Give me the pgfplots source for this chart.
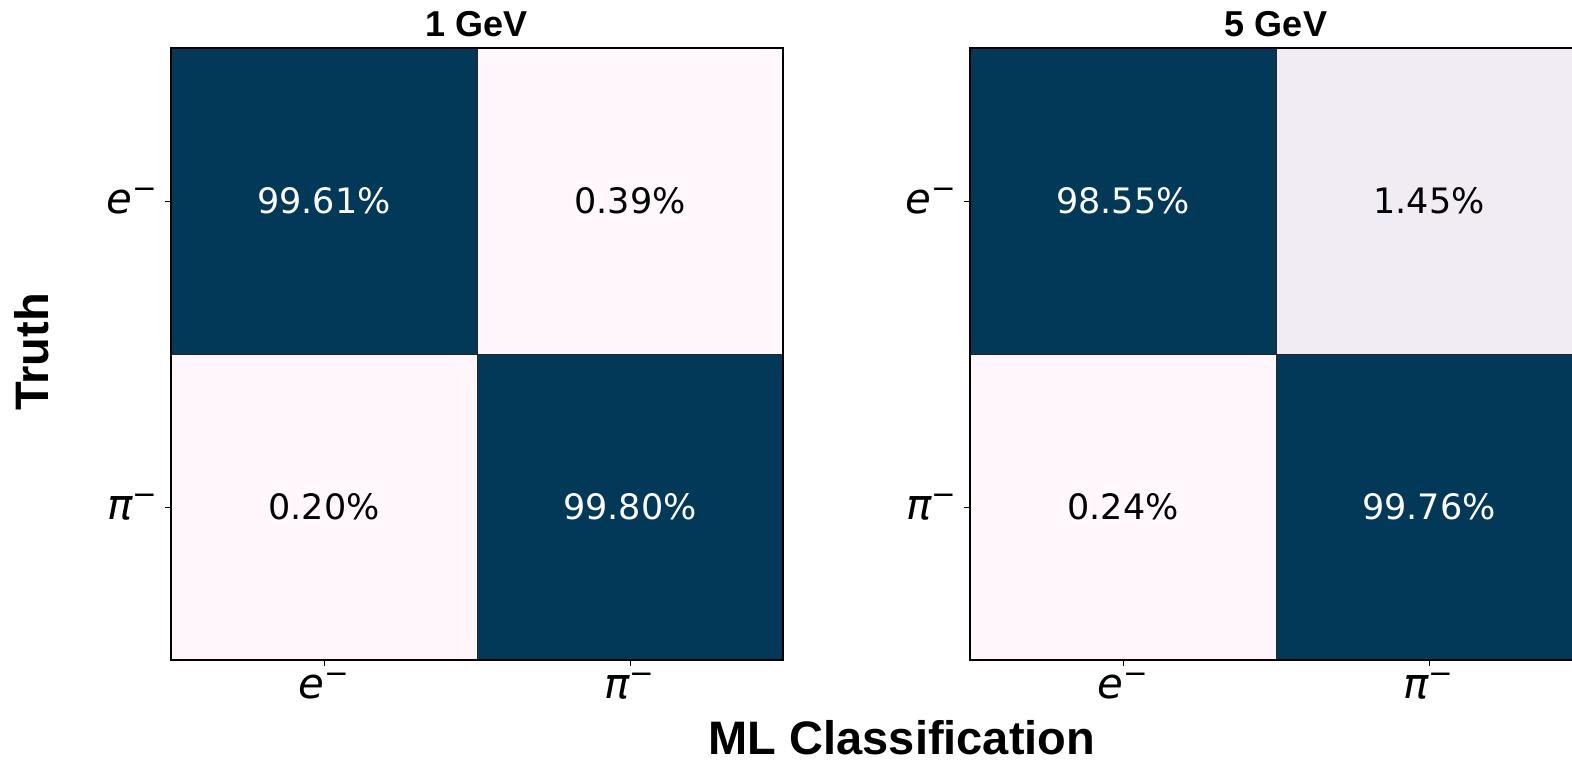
\documentclass[border=0pt]{standalone}
\usepackage{fontspec}
\setmainfont{DejaVu Sans}
\newfontfamily\arialfont{Liberation Sans}
\usepackage{pgfplots}
\usepackage{pgfplotstable}
\pgfplotsset{compat=1.18}

% cell corners: each cell is one rectangle patch, c = percentage
\pgfplotstableread{
x y c
-0.5 -0.5 99.61
0.5 -0.5 99.61
0.5 0.5 99.61
-0.5 0.5 99.61
0.5 -0.5 0.39
1.5 -0.5 0.39
1.5 0.5 0.39
0.5 0.5 0.39
-0.5 0.5 0.20
0.5 0.5 0.20
0.5 1.5 0.20
-0.5 1.5 0.20
0.5 0.5 99.80
1.5 0.5 99.80
1.5 1.5 99.80
0.5 1.5 99.80
}\cellsA
\pgfplotstableread{
x y c
-0.5 -0.5 98.55
0.5 -0.5 98.55
0.5 0.5 98.55
-0.5 0.5 98.55
0.5 -0.5 1.45
1.5 -0.5 1.45
1.5 0.5 1.45
0.5 0.5 1.45
-0.5 0.5 0.24
0.5 0.5 0.24
0.5 1.5 0.24
-0.5 1.5 0.24
0.5 0.5 99.76
1.5 0.5 99.76
1.5 1.5 99.76
0.5 1.5 99.76
}\cellsB
\pgfplotstableread{
x y lab
0 0 99.61
1 1 99.80
}\darkA
\pgfplotstableread{
x y lab
1 0 0.39
0 1 0.20
}\lightA
\pgfplotstableread{
x y lab
0 0 98.55
1 1 99.76
}\darkB
\pgfplotstableread{
x y lab
1 0 1.45
0 1 0.24
}\lightB

\pgfplotsset{
  cmstyle/.style={
    scale only axis, width=306pt, height=306pt,
    anchor=south west,
    xmin=-0.5, xmax=1.5, ymin=-0.5, ymax=1.5, y dir=reverse,
    enlargelimits=false, axis on top,
    xtick={0,1}, ytick={0,1},
    xticklabels={{\itshape e}\textsuperscript{−}, {\itshape π}\textsuperscript{−}},
    yticklabels={{\itshape e}\textsuperscript{−}, {\itshape π}\textsuperscript{−}},
    tick align=outside, xtick pos=bottom, ytick pos=left,
    major tick length=3pt,
    tick style={black, line width=0.5pt},
    axis line style={black, line width=0.6pt},
    ticklabel style={font=\fontsize{21}{25}\selectfont},
    colormap={pubu}{rgb255(0pt)=(255,247,251); rgb255(0.5pt)=(255,247,251); rgb255(1.45pt)=(241,235,244); rgb255(98pt)=(2,56,88); rgb255(100pt)=(2,56,88)},
    point meta min=0, point meta max=100,
  },
  cells/.style={patch, patch type=rectangle, shader=flat, point meta=explicit, draw=black!85, line width=0.5pt},
  lbl/.style={draw=none, mark=none, point meta=explicit symbolic,
    nodes near coords={\pgfplotspointmeta\%},
    every node near coord/.append style={anchor=center, font=\fontsize{17.5}{20}\selectfont, text=#1}},
}

\begin{document}
\begin{tikzpicture}[x=1pt, y=1pt]
\path[use as bounding box] (0,0) rectangle (786,380.5);

\begin{axis}[cmstyle, at={(85.5pt,50.5pt)}]
\addplot[cells] table[x=x, y=y, meta=c] {\cellsA};
\addplot[lbl=white] table[x=x, y=y, meta=lab] {\darkA};
\addplot[lbl=black] table[x=x, y=y, meta=lab] {\lightA};
\end{axis}

\begin{axis}[cmstyle, at={(485pt,50.5pt)}]
\addplot[cells] table[x=x, y=y, meta=c] {\cellsB};
\addplot[lbl=white] table[x=x, y=y, meta=lab] {\darkB};
\addplot[lbl=black] table[x=x, y=y, meta=lab] {\lightB};
\end{axis}

\node[anchor=base, font=\arialfont\bfseries\fontsize{18}{21}\selectfont] at (238.5,362) {1 GeV};
\node[anchor=base, font=\arialfont\bfseries\fontsize{18}{21}\selectfont] at (638,362) {5 GeV};
\node[anchor=base, font=\arialfont\bfseries\fontsize{23.5}{27}\selectfont] at (451,3.5) {ML Classification};
\node[rotate=90, font=\arialfont\bfseries\fontsize{23.5}{27}\selectfont] at (16,204.5) {Truth};
\end{tikzpicture}
\end{document}
